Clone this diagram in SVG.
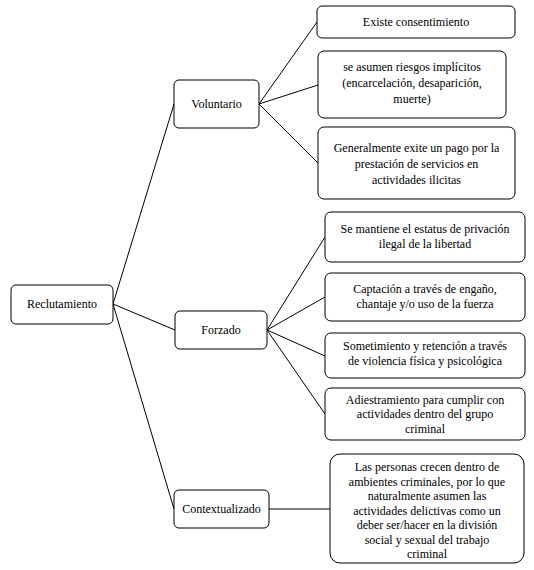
<svg xmlns="http://www.w3.org/2000/svg" width="534" height="570" viewBox="0 0 534 570">
<style>
rect{fill:#fff;stroke:#000;stroke-width:1}
text{font-family:"Liberation Serif","Times New Roman",serif;font-size:12px;fill:#000;text-anchor:middle}
.c line{stroke:#000;stroke-width:1}
</style>
<rect x="0" y="0" width="534" height="570" style="stroke:none"/>
<g class="c" id="connectors">
<line x1="113" y1="304" x2="174" y2="104"/>
<line x1="113" y1="304" x2="175" y2="330"/>
<line x1="113" y1="304" x2="174" y2="509"/>
<line x1="259" y1="104" x2="317" y2="22"/>
<line x1="259" y1="104" x2="318" y2="85"/>
<line x1="259" y1="104" x2="318" y2="163"/>
<line x1="267" y1="330" x2="325" y2="237"/>
<line x1="267" y1="330" x2="325" y2="297"/>
<line x1="267" y1="330" x2="325" y2="356"/>
<line x1="267" y1="330" x2="325" y2="414"/>
<line x1="269" y1="509" x2="330" y2="509"/>
</g>
<g id="reclutamiento"><rect x="11" y="285" width="102" height="39" rx="5"/><text x="62" y="308">Reclutamiento</text></g>
<g id="voluntario"><rect x="174" y="80" width="85" height="48" rx="5"/><text x="216.5" y="108">Voluntario</text></g>
<g id="forzado"><rect x="175" y="311" width="92" height="38" rx="5"/><text x="221" y="334">Forzado</text></g>
<g id="contextualizado"><rect x="174" y="490" width="95" height="38" rx="5"/><text x="221.5" y="513">Contextualizado</text></g>
<g id="v1"><rect x="317" y="6" width="198" height="32" rx="5"/><text x="416" y="26">Existe consentimiento</text></g>
<g id="v2"><rect x="318" y="51" width="188" height="67" rx="6"/><text x="412" y="71">se asumen riesgos implícitos</text><text x="412" y="87">(encarcelación, desaparición,</text><text x="412" y="103">muerte)</text></g>
<g id="v3"><rect x="318" y="127" width="197" height="72" rx="6"/><text x="416.5" y="152">Generalmente exite un pago por la</text><text x="416.5" y="168">prestación de servicios en</text><text x="416.5" y="184">actividades ilicitas</text></g>
<g id="f1"><rect x="325" y="212" width="200" height="50" rx="6"/><text x="425" y="233">Se mantiene el estatus de privación</text><text x="425" y="248">ilegal de la libertad</text></g>
<g id="f2"><rect x="325" y="273" width="200" height="48" rx="6"/><text x="425" y="293">Captación a través de engaño,</text><text x="425" y="308">chantaje y/o uso de la fuerza</text></g>
<g id="f3"><rect x="325" y="333" width="200" height="45" rx="6"/><text x="425" y="350">Sometimiento y retención a través</text><text x="425" y="365">de violencia física y psicológica</text></g>
<g id="f4"><rect x="325" y="388" width="200" height="52" rx="6"/><text x="425" y="404">Adiestramiento para cumplir con</text><text x="425" y="418">actividades dentro del grupo</text><text x="425" y="433">criminal</text></g>
<g id="c1"><rect x="330" y="454" width="194" height="109" rx="10"/><text x="427" y="471">Las personas crecen dentro de</text><text x="427" y="485.5">ambientes criminales, por lo que</text><text x="427" y="500">naturalmente asumen las</text><text x="427" y="514.5">actividades delictivas como un</text><text x="427" y="529">deber ser/hacer en la división</text><text x="427" y="543.5">social y sexual del trabajo</text><text x="427" y="558">criminal</text></g>
</svg>
